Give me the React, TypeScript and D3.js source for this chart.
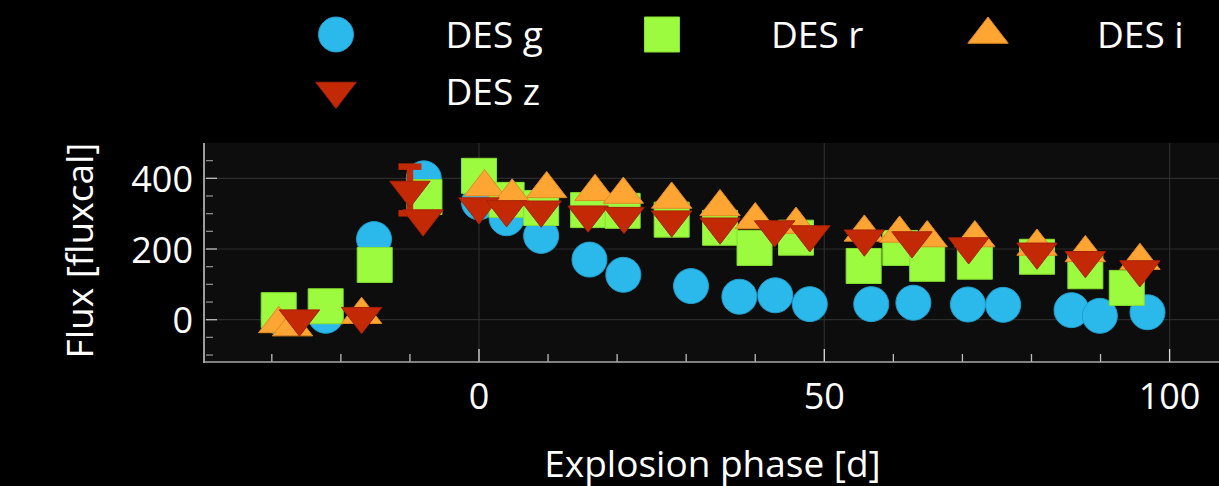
import React from "react";
import * as d3 from "d3";

// ---- data ----
const gX = [-29, -22.2, -15.2, -8, 0, 4, 9, 16, 20.9, 30.7, 37.7, 42.9, 47.9, 56.8, 62.9, 70.8, 75.9, 85.8, 89.9, 96.8];
const gY = [8, 11, 228, 400, 332, 287, 237, 170, 127, 95, 65, 69, 44, 44, 48, 43, 42, 27, 11, 21];

const rX = [-29, -22.2, -15.1, -7.9, 0, 4, 9, 15.8, 20.8, 27.9, 34.9, 39.9, 45.9, 55.7, 61, 64.9, 71.8, 80.8, 87.8, 93.8];
const rY = [27, 38, 155, 347, 407, 339, 316, 310, 308, 283, 260, 203, 232, 152, 203, 158, 164, 178, 137, 90];

const iX = [-29, -27, -17, 0.8, 4.8, 9.8, 16.8, 20.9, 27.9, 34.9, 40, 45.9, 55.8, 60.9, 64.9, 71.8, 80.8, 87.8, 95.7];
const iY = [-12, -21, 14, 375, 349, 370, 362, 354, 340, 319, 282, 269, 247, 244, 231, 231, 207, 189, 167];

const zX = [-26, -17, -10, -8.1, 0, 4, 9, 15.8, 21, 27.9, 34.9, 42.8, 47.9, 55.8, 62.7, 70.9, 80.8, 87.8, 95.7];
const zY = [3, 10, 367, 286, 320, 312, 311, 297, 293, 283, 263, 255, 241, 229, 224, 207, 192, 168, 142];
const zErr = [0, 0, 66, 0, 0, 0, 0, 0, 0, 0, 0, 0, 0, 0, 0, 0, 0, 0, 0];

const xMajorTicks = [0, 50, 100];
const xMinorTicks = [-30, -20, -10, 10, 20, 30, 40, 60, 70, 80, 90, 110];
const yMajorTicks = [0, 200, 400];
const yMinorTicks = [-100, -50, 50, 100, 150, 250, 300, 350, 450];

const seriesNames = ["DES g", "DES r", "DES i", "DES z"];
const seriesColors = ["#2bb9ec", "#9cfa3f", "#ffa534", "#c42906"];
const seriesStroke = ["#1f9fcc", "#86e030", "#e08a20", "#a82204"];
const seriesSymbols = ["circle", "square", "triangle-up", "triangle-down"];

const xAxisTitle = "Explosion phase [d]";
const yAxisTitle = "Flux [fluxcal]";

// ---- layout ----
const W = 1219;
const H = 486;
const plotL = 204;
const plotR = 1221;
const plotT = 143;
const plotB = 362;
const FONT = "'Open Sans', 'Noto Sans', sans-serif";
const R = 17.5;

const x = d3.scaleLinear().domain([0, 100]).range([479, 1169.6]);
const y = d3.scaleLinear().domain([0, 400]).range([319.7, 178.3]);

function symbolPath(sym: string, r: number): string {
  const rt = (r * 2) / Math.sqrt(3);
  const p = d3.path();
  if (sym === "circle") {
    p.moveTo(r, 0);
    p.arc(0, 0, r, 0, Math.PI * 2);
  } else if (sym === "square") {
    p.rect(-r, -r, 2 * r, 2 * r);
  } else if (sym === "triangle-up") {
    p.moveTo(-rt, r / 2);
    p.lineTo(rt, r / 2);
    p.lineTo(0, -r);
    p.closePath();
  } else {
    p.moveTo(-rt, -r / 2);
    p.lineTo(rt, -r / 2);
    p.lineTo(0, r);
    p.closePath();
  }
  return p.toString();
}

const seriesData = [
  { xs: gX, ys: gY },
  { xs: rX, ys: rY },
  { xs: iX, ys: iY },
  { xs: zX, ys: zY, err: zErr },
];

const legendMarkerX = [336, 662, 988, 336];
const legendRowY = [34.5, 34.5, 34.5, 91];
const legendTextX = [445.5, 771, 1097, 445.5];
const legendBaseY = [48.3, 48.3, 48.3, 105];

export default function App() {
  return (
    <div style={{ position: "absolute", left: 0, top: 0 }}>
      <svg width={W} height={H} style={{ display: "block" }}>
        <rect x={0} y={0} width={W} height={H} fill="#000" />
        <defs>
          <clipPath id="plotclip">
            <rect x={plotL} y={plotT} width={plotR - plotL} height={plotB - plotT} />
          </clipPath>
        </defs>
        <rect x={plotL} y={plotT} width={plotR - plotL} height={plotB - plotT} fill="#0d0d0d" />
        {/* grid */}
        {xMajorTicks.map((t) => (
          <line key={"gx" + t} x1={x(t)} x2={x(t)} y1={plotT} y2={plotB} stroke="#2c2c2c" strokeWidth={1.2} />
        ))}
        {yMajorTicks.map((t) => (
          <line key={"gy" + t} x1={plotL} x2={plotR} y1={y(t)} y2={y(t)} stroke="#2c2c2c" strokeWidth={1.2} />
        ))}
        {/* ticks */}
        {yMinorTicks.map((t) => (
          <line key={"ymn" + t} x1={plotL + 2} x2={plotL + 9} y1={y(t)} y2={y(t)} stroke="#8a8a8a" strokeWidth={1.3} />
        ))}
        {yMajorTicks.map((t) => (
          <line key={"ymj" + t} x1={plotL + 2} x2={plotL + 13} y1={y(t)} y2={y(t)} stroke="#bdbdbd" strokeWidth={1.3} />
        ))}
        {xMinorTicks.map((t) => (
          <line key={"xmn" + t} x1={x(t)} x2={x(t)} y1={plotB - 8} y2={plotB} stroke="#bdbdbd" strokeWidth={1.3} />
        ))}
        {xMajorTicks.map((t) => (
          <line key={"xmj" + t} x1={x(t)} x2={x(t)} y1={plotB - 13} y2={plotB} stroke="#dcdcdc" strokeWidth={1.3} />
        ))}
        {/* axis lines */}
        <line x1={plotL} x2={plotL} y1={plotT} y2={plotB + 1} stroke="#cfcfcf" strokeWidth={1.5} />
        <line x1={plotL - 1} x2={plotR} y1={plotB} y2={plotB} stroke="#a8a8a8" strokeWidth={1.5} />
        {/* markers */}
        <g clipPath="url(#plotclip)">
          {seriesData.map((s, si) => (
            <g key={"s" + si}>
              {s.err &&
                s.xs.map((xv, k) =>
                  s.err![k] > 0 ? (
                    <g key={"e" + k} stroke={seriesColors[si]} strokeWidth={6.5}>
                      <line x1={x(xv)} x2={x(xv)} y1={y(s.ys[k] + s.err![k])} y2={y(s.ys[k] - s.err![k])} />
                      <line x1={x(xv) - 11.5} x2={x(xv) + 11.5} y1={y(s.ys[k] + s.err![k])} y2={y(s.ys[k] + s.err![k])} />
                      <line x1={x(xv) - 11.5} x2={x(xv) + 11.5} y1={y(s.ys[k] - s.err![k])} y2={y(s.ys[k] - s.err![k])} />
                    </g>
                  ) : null
                )}
              {s.xs.map((xv, k) => (
                <path
                  key={k}
                  d={symbolPath(seriesSymbols[si], R)}
                  transform={`translate(${x(xv)},${y(s.ys[k])})`}
                  fill={seriesColors[si]}
                  stroke={seriesStroke[si]}
                  strokeWidth={1}
                />
              ))}
            </g>
          ))}
        </g>
        {/* tick labels */}
        {xMajorTicks.map((t) => (
          <text key={"xl" + t} x={x(t)} y={409} fill="#fff" fontFamily={FONT} fontSize={36} textAnchor="middle">
            {t}
          </text>
        ))}
        {yMajorTicks.map((t) => (
          <text key={"yl" + t} x={193} y={y(t) + 13.5} fill="#fff" fontFamily={FONT} fontSize={36} textAnchor="end">
            {t}
          </text>
        ))}
        {/* axis titles */}
        <text x={712.5} y={476.7} fill="#fff" fontFamily={FONT} fontSize={37} textAnchor="middle">
          {xAxisTitle}
        </text>
        <text
          transform={`translate(93.3,250.5) rotate(-90)`}
          fill="#fff"
          fontFamily={FONT}
          fontSize={37}
          textAnchor="middle"
        >
          {yAxisTitle}
        </text>
        {/* legend */}
        {seriesNames.map((name, i) => (
          <g key={"lg" + i}>
            <path
              d={symbolPath(seriesSymbols[i], R)}
              transform={`translate(${legendMarkerX[i]},${legendRowY[i]})`}
              fill={seriesColors[i]}
              stroke={seriesStroke[i]}
              strokeWidth={1}
            />
            <text x={legendTextX[i]} y={legendBaseY[i]} fill="#fff" fontFamily={FONT} fontSize={37}>
              {name}
            </text>
          </g>
        ))}
      </svg>
    </div>
  );
}
